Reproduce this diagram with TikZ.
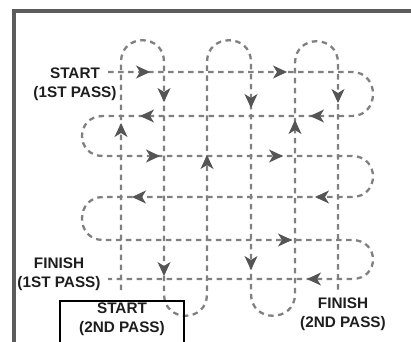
\documentclass[tikz,border=0pt]{standalone}
\usepackage{fontspec}
\setmainfont{Liberation Sans}
\usetikzlibrary{arrows.meta,calc}
\definecolor{dashc}{HTML}{808080}
\definecolor{tipc}{HTML}{555555}
\definecolor{framec}{HTML}{5C5C5C}
\definecolor{txtc}{HTML}{1E1E1E}
\begin{document}
\begin{tikzpicture}[x=1pt,y=-1pt,
  pass/.style={draw=dashc, line width=2.3pt, dash pattern=on 5.5pt off 4.5pt},
  tipmark/.style={draw=tipc, fill=tipc, line width=1pt, -{Stealth[length=14pt,width=13pt,inset=4pt]}},
  lbl/.style={font=\fontsize{15.3}{19}\selectfont\bfseries, align=center, text=txtc, inner sep=0pt},
  framebox/.style={draw=framec, line width=3.5pt}]
\useasboundingbox (0,0) rectangle (411,341);
\clip (0,0) rectangle (411,341);
% frame
\coordinate (fbl) at (14,360);
\coordinate (ftl) at (14,11);
\coordinate (ftr) at (430,11);
\draw[framebox] (fbl) -- (ftl) -- (ftr);
% first pass (rows)
\coordinate (L1) at (108,72);  \coordinate (R1) at (352,72);
\coordinate (R2) at (352,116); \coordinate (L2) at (103,116);
\coordinate (L3) at (103,156); \coordinate (R3) at (352,156);
\coordinate (R4) at (352,197); \coordinate (L4) at (103,197);
\coordinate (L5) at (103,240); \coordinate (R5) at (352,240);
\coordinate (R6) at (352,279); \coordinate (L6) at (108,279);
\draw[pass] (L1) -- (R1) .. controls +(28,0) and +(28,0) .. (R2)
  -- (L2) .. controls +(-28,0) and +(-28,0) .. (L3)
  -- (R3) .. controls +(28,0) and +(28,0) .. (R4)
  -- (L4) .. controls +(-28,0) and +(-28,0) .. (L5)
  -- (R5) .. controls +(28,0) and +(28,0) .. (R6)
  -- (L6);
% second pass (columns)
\coordinate (B1) at (121,290); \coordinate (T1) at (121,62);
\coordinate (T2) at (164,62);  \coordinate (B2) at (164,294);
\coordinate (B3) at (207,294); \coordinate (T3) at (207,62);
\coordinate (T4) at (251,62);  \coordinate (B4) at (251,294);
\coordinate (B5) at (295,294); \coordinate (T5) at (295,63);
\coordinate (T6) at (338,63);  \coordinate (B6) at (338,291);
\draw[pass] (B1) -- (T1) .. controls +(0,-29) and +(0,-29) .. (T2)
  -- (B2) .. controls +(0,29) and +(0,29) .. (B3)
  -- (T3) .. controls +(0,-29) and +(0,-29) .. (T4)
  -- (B4) .. controls +(0,29) and +(0,29) .. (B5)
  -- (T5) .. controls +(0,-29) and +(0,-29) .. (T6)
  -- (B6);
% arrowheads: right
\foreach \x/\y in {150/72, 287/72, 160/156, 283/156, 292/240}
  \draw[tipmark] (\x-2,\y) -- (\x,\y);
% left
\foreach \x/\y in {140/116, 310/116, 132/197, 315/197, 307/279}
  \draw[tipmark] (\x+2,\y) -- (\x,\y);
% down
\foreach \x/\y in {164/102, 164/276, 251/108, 251/270, 338/103}
  \draw[tipmark] (\x,\y-2) -- (\x,\y);
% up
\foreach \x/\y in {121/123, 207/155, 295/120}
  \draw[tipmark] (\x,\y+2) -- (\x,\y);
% labels
\node[lbl] (s1) at (75,84) {START\\(1ST PASS)};
\node[lbl] (f1) at (59,274) {FINISH\\(1ST PASS)};
\node[draw=black, line width=1.6pt, minimum width=124pt, minimum height=50pt, inner sep=0pt, anchor=north] (box) at (122,300) {};
\node[lbl] (s2) at (122,319) {START\\(2ND PASS)};
\node[lbl] (f2) at (343,314) {FINISH\\(2ND PASS)};
\end{tikzpicture}
\end{document}
